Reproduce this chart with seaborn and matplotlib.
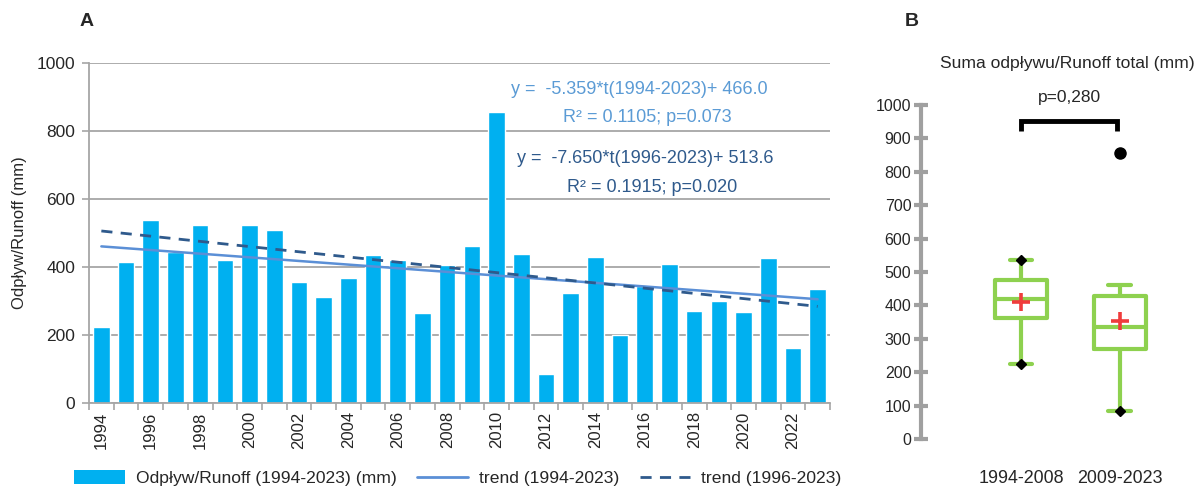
import numpy as np
import pandas as pd
import matplotlib
matplotlib.use("Agg")
import matplotlib.pyplot as plt
from matplotlib.lines import Line2D
from matplotlib.patches import Patch
import seaborn as sns

sns.set_theme(style="white")
plt.rcParams["font.family"] = ["Liberation Sans", "DejaVu Sans"]

# Annual runoff (mm), 1994-2023
years = list(range(1994, 2024))
runoff = [225, 416, 537, 445, 524, 420, 524, 509, 356, 312,
          369, 436, 420, 266, 406, 461, 857, 437, 84, 324,
          430, 200, 345, 410, 270, 301, 268, 427, 161, 336]

# Linear trends, t = 1 for 1994
trend_a_slope, trend_a_icpt = -5.359, 466.0
trend_b_slope, trend_b_icpt = -7.650, 513.6
trend_a_label = ["y =  -5.359*t(1994-2023)+ 466.0", "R² = 0.1105; p=0.073"]
trend_b_label = ["y =  -7.650*t(1996-2023)+ 513.6", "R² = 0.1915; p=0.020"]

period_labels = ["1994-2008", "2009-2023"]
p_value_text = "p=0,280"

BAR = "#00B0F0"
TREND_A = "#5B8FD6"
TREND_B = "#2F5A8C"
GRID = "#A6A6A6"
GREEN = "#8ED14F"

fig = plt.figure(figsize=(12.02, 4.91), dpi=100)

# ---------------- Panel A ----------------
axA = fig.add_axes([89 / 1202, 1 - 403 / 491, (830 - 89) / 1202, (403 - 63) / 491])
df = pd.DataFrame({"year": [str(y) for y in years], "runoff": runoff})
sns.barplot(data=df, x="year", y="runoff", color=BAR, saturation=1,
            width=0.67, ax=axA, zorder=2)

t = np.arange(1, len(years) + 1)
xpos = np.arange(len(years))
axA.plot(xpos, trend_a_slope * t + trend_a_icpt, color=TREND_A, lw=1.8, zorder=3)
axA.plot(xpos, trend_b_slope * t + trend_b_icpt, color=TREND_B, lw=2.0,
         ls=(0, (4, 3)), zorder=3)

axA.set_xlim(-0.5, len(years) - 0.5)
axA.set_ylim(0, 1000)
axA.set_yticks(range(0, 1001, 200))
axA.yaxis.grid(True, color=GRID, lw=1.3)
axA.set_axisbelow(True)
axA.tick_params(axis="y", direction="out", length=5, width=1.2, color=GRID,
                labelsize=12.5, pad=5, left=True)
axA.set_xticks(np.arange(-0.5, len(years), 1.0))
axA.set_xticklabels([])
axA.tick_params(axis="x", which="major", direction="out", length=5, width=1.2,
                color=GRID, bottom=True)
axA.set_xticks(xpos[::2], minor=True)
axA.set_xticklabels([str(y) for y in years[::2]], minor=True, rotation=90,
                    fontsize=12)
axA.tick_params(axis="x", which="minor", length=0, pad=6)
for s in ["top", "right"]:
    axA.spines[s].set_visible(False)
for s in ["left", "bottom"]:
    axA.spines[s].set_color(GRID)
    axA.spines[s].set_linewidth(1.3)
axA.set_xlabel("")
axA.set_ylabel("Odpływ/Runoff (mm)", fontsize=12, labelpad=7)

axA.text(21.8, 923, trend_a_label[0], color="#5B9BD5", fontsize=13, ha="center", va="center")
axA.text(22.1, 841, trend_a_label[1], color="#5B9BD5", fontsize=13, ha="center", va="center")
axA.text(22.0, 718, trend_b_label[0], color=TREND_B, fontsize=13, ha="center", va="center")
axA.text(22.3, 635, trend_b_label[1], color=TREND_B, fontsize=13, ha="center", va="center")

fig.text(87 / 1202, 1 - 22 / 491, "A", fontsize=14, fontweight="bold",
         ha="center", va="center")

handles = [Patch(facecolor=BAR, edgecolor="none"),
           Line2D([], [], color=TREND_A, lw=2),
           Line2D([], [], color=TREND_B, lw=2, ls=(0, (4, 3)))]
labels = ["Odpływ/Runoff (1994-2023) (mm)", "trend (1994-2023)", "trend (1996-2023)"]
fig.legend(handles, labels, loc="center", bbox_to_anchor=(458 / 1202, 1 - 478 / 491),
           ncol=3, frameon=False, fontsize=12.6, handlelength=2.9, handleheight=0.9,
           columnspacing=1.2, handletextpad=0.6)

# ---------------- Panel B ----------------
axB = fig.add_axes([921 / 1202, 1 - 439 / 491, (1200 - 921) / 1202, (439 - 105) / 491])
n1 = years.index(2009)
box_df = pd.DataFrame({
    "period": [period_labels[0]] * n1 + [period_labels[1]] * (len(years) - n1),
    "runoff": runoff,
})
sns.boxplot(data=box_df, x="period", y="runoff", order=period_labels, ax=axB,
            width=0.525, fill=False, color=GREEN, linewidth=3, whis=1.5,
            capwidths=0.23, showmeans=True,
            meanprops=dict(marker="+", markeredgecolor="#F03C3C", markersize=13,
                           markeredgewidth=2.6),
            flierprops=dict(marker="o", markerfacecolor="black", markeredgecolor="black",
                            markersize=8),
            medianprops=dict(color=GREEN, lw=3))

# min / max points that fall inside the whiskers
for i, p in enumerate(period_labels):
    vals = np.array(box_df.loc[box_df["period"] == p, "runoff"])
    q1, q3 = np.percentile(vals, [25, 75])
    lo, hi = q1 - 1.5 * (q3 - q1), q3 + 1.5 * (q3 - q1)
    for v in (vals.min(), vals.max()):
        if lo <= v <= hi:
            axB.plot(i, v, marker="D", color="black", markersize=5.5, zorder=5)

axB.set_xlim(-1.01, 1.81)
axB.set_ylim(0, 1000)
axB.set_yticks(range(0, 1001, 100))
axB.tick_params(axis="y", direction="inout", length=10, width=3, color="#A0A0A0",
                labelsize=11.5, pad=2, left=True)
axB.tick_params(axis="x", length=0, labelsize=12.9, pad=22)
for s in ["top", "right", "bottom"]:
    axB.spines[s].set_visible(False)
axB.spines["left"].set_color("#A0A0A0")
axB.spines["left"].set_linewidth(3)
axB.set_xlabel("")
axB.set_ylabel("")

# significance bracket
axB.plot([0, 0, 0.97, 0.97], [922, 952, 952, 922], color="black", lw=3.5,
         solid_capstyle="butt", solid_joinstyle="miter", clip_on=False)
axB.text(0.49, 1023, p_value_text, fontsize=12.5, ha="center", va="center")
axB.text(0.47, 1125, "Suma odpływu/Runoff total (mm)", fontsize=12.6, ha="center",
         va="center")

fig.text(912 / 1202, 1 - 22 / 491, "B", fontsize=14, fontweight="bold",
         ha="center", va="center")

fig.savefig("out.png", dpi=100)
